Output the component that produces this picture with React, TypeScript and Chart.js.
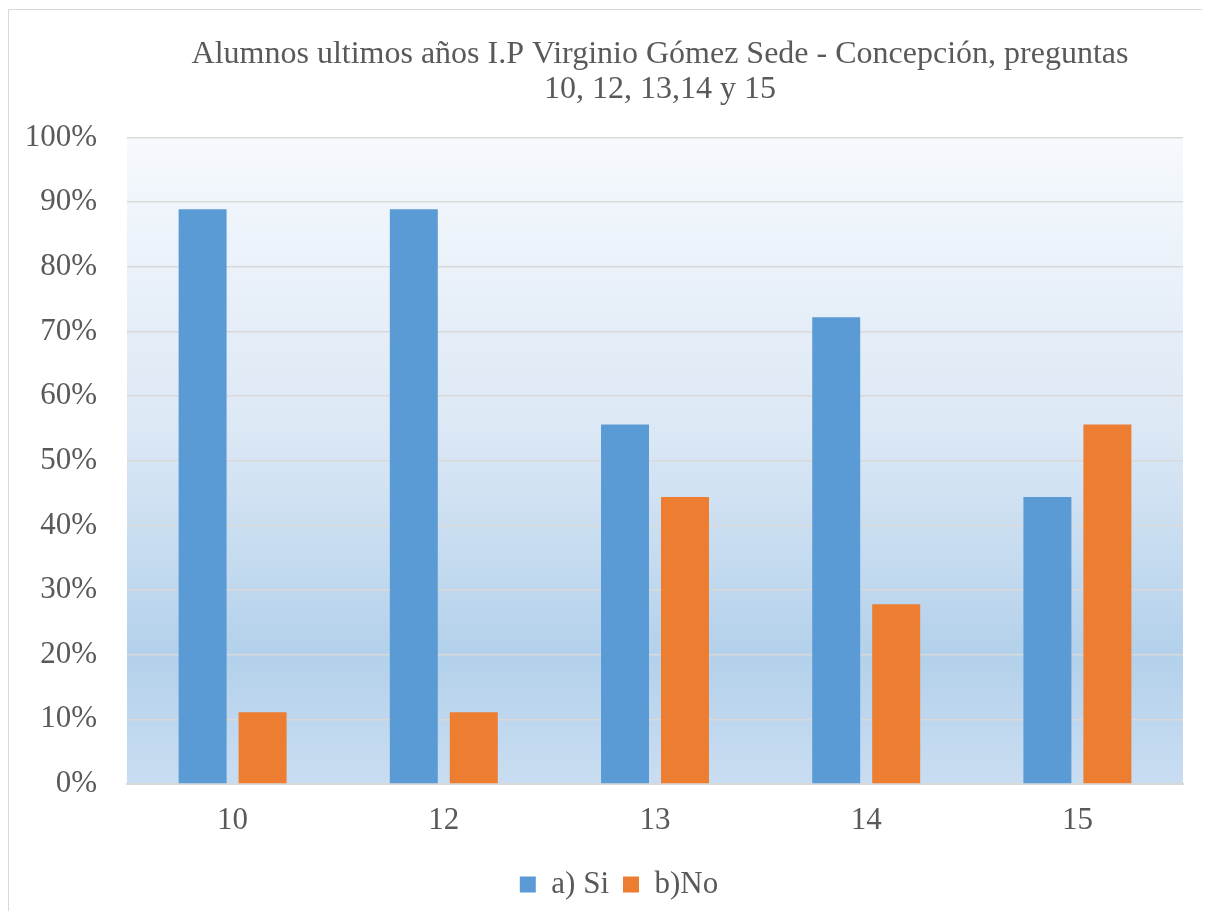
import React, { useEffect, useRef } from "react";
import { Chart, registerables } from "chart.js";

Chart.register(...registerables);

const titleLines = [
  "Alumnos ultimos años I.P Virginio Gómez Sede - Concepción, preguntas",
  "10, 12, 13,14 y 15",
];
const categories = ["10", "12", "13", "14", "15"];
const seriesNames = ["a) Si", "b)No"];
const siValues = [88.9, 88.9, 55.6, 72.2, 44.4];
const noValues = [11.1, 11.1, 44.4, 27.8, 55.6];
const seriesColors = ["#5b9bd5", "#ed7d31"];

const FONT = "'Liberation Serif', 'Times New Roman', serif";
const TEXT = "#595959";

const plotBackground = {
  id: "plotBackground",
  beforeDraw(chart: any) {
    const { ctx, chartArea } = chart;
    if (!chartArea) return;
    const { left, top, right, bottom } = chartArea;
    const g = ctx.createLinearGradient(0, top, 0, bottom);
    g.addColorStop(0, "#f6f9fd");
    g.addColorStop(0.45, "#dce8f5");
    g.addColorStop(0.8, "#b3d1eb");
    g.addColorStop(1, "#c9ddf1");
    ctx.save();
    ctx.fillStyle = g;
    ctx.fillRect(left, top, right - left, bottom - top);
    ctx.restore();
  },
};

// Nudge the legend and title blocks horizontally, as in the original layout
const blockShift = {
  id: "blockShift",
  afterLayout(chart: any) {
    const lg = chart.legend;
    if (lg) {
      lg.left += 23;
      lg.right += 23;
    }
    const tb = chart.titleBlock;
    if (tb) {
      tb.left += 5;
      tb.right += 5;
    }
  },
};

export default function App() {
  const ref = useRef<HTMLCanvasElement | null>(null);

  useEffect(() => {
    if (!ref.current) return;
    const chart = new Chart(ref.current, {
      type: "bar",
      data: {
        labels: categories,
        datasets: [
          {
            label: seriesNames[0],
            data: siValues,
            backgroundColor: seriesColors[0],
            barPercentage: 0.8,
            categoryPercentage: 0.568,
          },
          {
            label: seriesNames[1],
            data: noValues,
            backgroundColor: seriesColors[1],
            barPercentage: 0.8,
            categoryPercentage: 0.568,
          },
        ],
      },
      plugins: [plotBackground, blockShift],
      options: {
        responsive: false,
        animation: false,
        layout: { padding: { left: 0, right: 26, top: 0, bottom: 20 } },
        plugins: {
          title: {
            display: true,
            fullSize: false,
            text: titleLines,
            color: TEXT,
            font: { family: FONT, size: 32, weight: "normal", lineHeight: 1.1 },
            padding: { top: 27, bottom: 30 },
          },
          legend: {
            position: "bottom",
            labels: {
              color: TEXT,
              font: { family: FONT, size: 31 },
              boxWidth: 16,
              boxHeight: 16,
              padding: 14,
            },
          },
          tooltip: { enabled: false },
        },
        scales: {
          x: {
            grid: { display: false },
            border: { display: true, color: "#d9d9d9", width: 2 },
            ticks: { color: TEXT, font: { family: FONT, size: 31 }, padding: 10 },
            afterFit: (scale: any) => {
              scale.height = 71;
            },
          },
          y: {
            min: 0,
            max: 100,
            grid: { color: "#d9d9d9", lineWidth: 1.5, drawTicks: false },
            border: { display: false },
            ticks: {
              stepSize: 10,
              color: TEXT,
              font: { family: FONT, size: 31 },
              padding: 30,
              callback: (v: any) => v + "%",
            },
            afterFit: (scale: any) => {
              scale.width = 118;
            },
          },
        },
      },
    });
    return () => chart.destroy();
  }, []);

  return (
    <div
      style={{
        marginTop: 1,
        width: 1210,
        height: 902,
        overflow: "hidden",
        borderTop: "1px solid #d9d9d9",
        borderLeft: "1px solid #d9d9d9",
        boxSizing: "border-box",
        background: "#fff",
      }}
    >
      <canvas ref={ref} width={1200} height={920} style={{ display: "block" }} />
    </div>
  );
}
